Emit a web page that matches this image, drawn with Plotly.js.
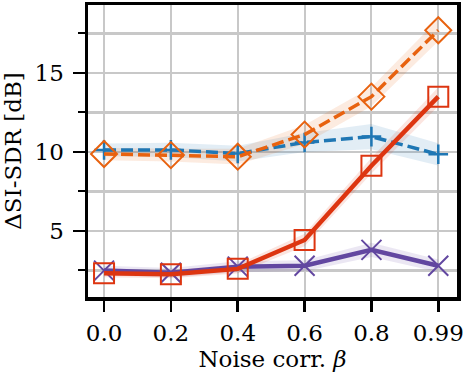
<!DOCTYPE html>
<html><head><meta charset="utf-8">
<script src="https://cdn.plot.ly/plotly-3.0.1.min.js"></script>
<style>html,body{margin:0;padding:0;background:#fff}#plot{width:468px;height:375px}</style>
</head><body><div id="plot"></div>
<script>
const betaLabels = ["0.0","0.2","0.4","0.6","0.8","0.99"];
const blueVals   = [10.13, 10.13, 9.9, 10.6, 10.97, 9.85];
const blueErr    = [0.4, 0.45, 0.5, 0.6, 0.8, 0.7];
const orangeVals = [9.87, 9.8, 9.7, 11.1, 13.5, 17.7];
const orangeErr  = [0.4, 0.4, 0.5, 0.6, 0.6, 0.7];
const purpleVals = [2.49, 2.36, 2.74, 2.8, 3.8, 2.8];
const purpleErr  = [0.3, 0.3, 0.35, 0.35, 0.45, 0.4];
const redVals    = [2.32, 2.26, 2.6, 4.43, 9.13, 13.5];
const redErr     = [0.25, 0.25, 0.3, 0.4, 0.5, 0.6];
const yMajorTicks = [5, 10, 15];
const yMinorTicks = [2.5, 7.5, 12.5, 17.5];

const idx = betaLabels.map((_, i) => i);
function band(vals, err, fill) {
  const xs = idx.concat(idx.slice().reverse());
  const ys = vals.map((v, i) => v + err[i]).concat(vals.map((v, i) => v - err[i]).reverse());
  return {x: xs, y: ys, type: 'scatter', mode: 'lines', fill: 'toself', fillcolor: fill,
          line: {width: 0}, hoverinfo: 'skip', showlegend: false};
}
function line(vals, color, dash, width, symbol, size, mlw) {
  return {x: idx, y: vals, type: 'scatter', mode: 'lines+markers',
          line: {color: color, dash: dash, width: width},
          marker: {symbol: symbol, size: size, color: color, line: {color: color, width: mlw}},
          showlegend: false};
}
const cBlue = '#1f77b4', cOrange = '#e8620f', cPurple = '#6247a0', cRed = '#dd3510';
const data = [
  band(blueVals, blueErr, 'rgba(31,119,180,0.13)'),
  band(orangeVals, orangeErr, 'rgba(232,98,15,0.13)'),
  band(purpleVals, purpleErr, 'rgba(98,71,160,0.13)'),
  band(redVals, redErr, 'rgba(221,53,16,0.13)'),
  line(blueVals, cBlue, '12px,5px', 3.5, 'cross-thin-open', 14, 2.5),
  line(orangeVals, cOrange, '12px,5px', 3.5, 'diamond-open', 20, 2),
  line(purpleVals, cPurple, 'solid', 4.5, 'x-thin-open', 20, 2),
  line(redVals, cRed, 'solid', 4.5, 'square-open', 20, 2)
];
const font = {family: 'DejaVu Serif', size: 23, color: '#000'};
const gridCol = '#c8c8c8';
const layout = {
  width: 468, height: 375,
  margin: {l: 88, r: 11, t: 5, b: 78},
  paper_bgcolor: '#fff', plot_bgcolor: '#fff',
  font: font,
  xaxis: {
    range: [-0.24, 5.28], tickvals: idx, ticktext: betaLabels,
    showgrid: true, gridcolor: gridCol, gridwidth: 2,
    showline: true, linecolor: '#000', linewidth: 3.5, mirror: true,
    ticks: 'outside', ticklen: 11, tickwidth: 2.5, tickcolor: '#000',
    zeroline: false, ticklabelstandoff: 2,
    title: {text: 'Noise corr. <i>β</i>', font: font, standoff: 4}
  },
  yaxis: {
    range: [0.82, 19.3], tickvals: yMajorTicks,
    showgrid: true, gridcolor: gridCol, gridwidth: 2.5,
    minor: {tickvals: yMinorTicks, ticks: 'outside', ticklen: 7, tickwidth: 2, tickcolor: '#000',
            showgrid: true, gridcolor: gridCol, gridwidth: 2.5},
    showline: true, linecolor: '#000', linewidth: 3.5, mirror: true,
    ticks: 'outside', ticklen: 12, tickwidth: 2.5, tickcolor: '#000',
    zeroline: false, ticklabelstandoff: 4,
    title: {text: 'ΔSI-SDR [dB]', font: font, standoff: 8}
  }
};
Plotly.newPlot('plot', data, layout, {displayModeBar: false, staticPlot: true});
</script></body></html>
